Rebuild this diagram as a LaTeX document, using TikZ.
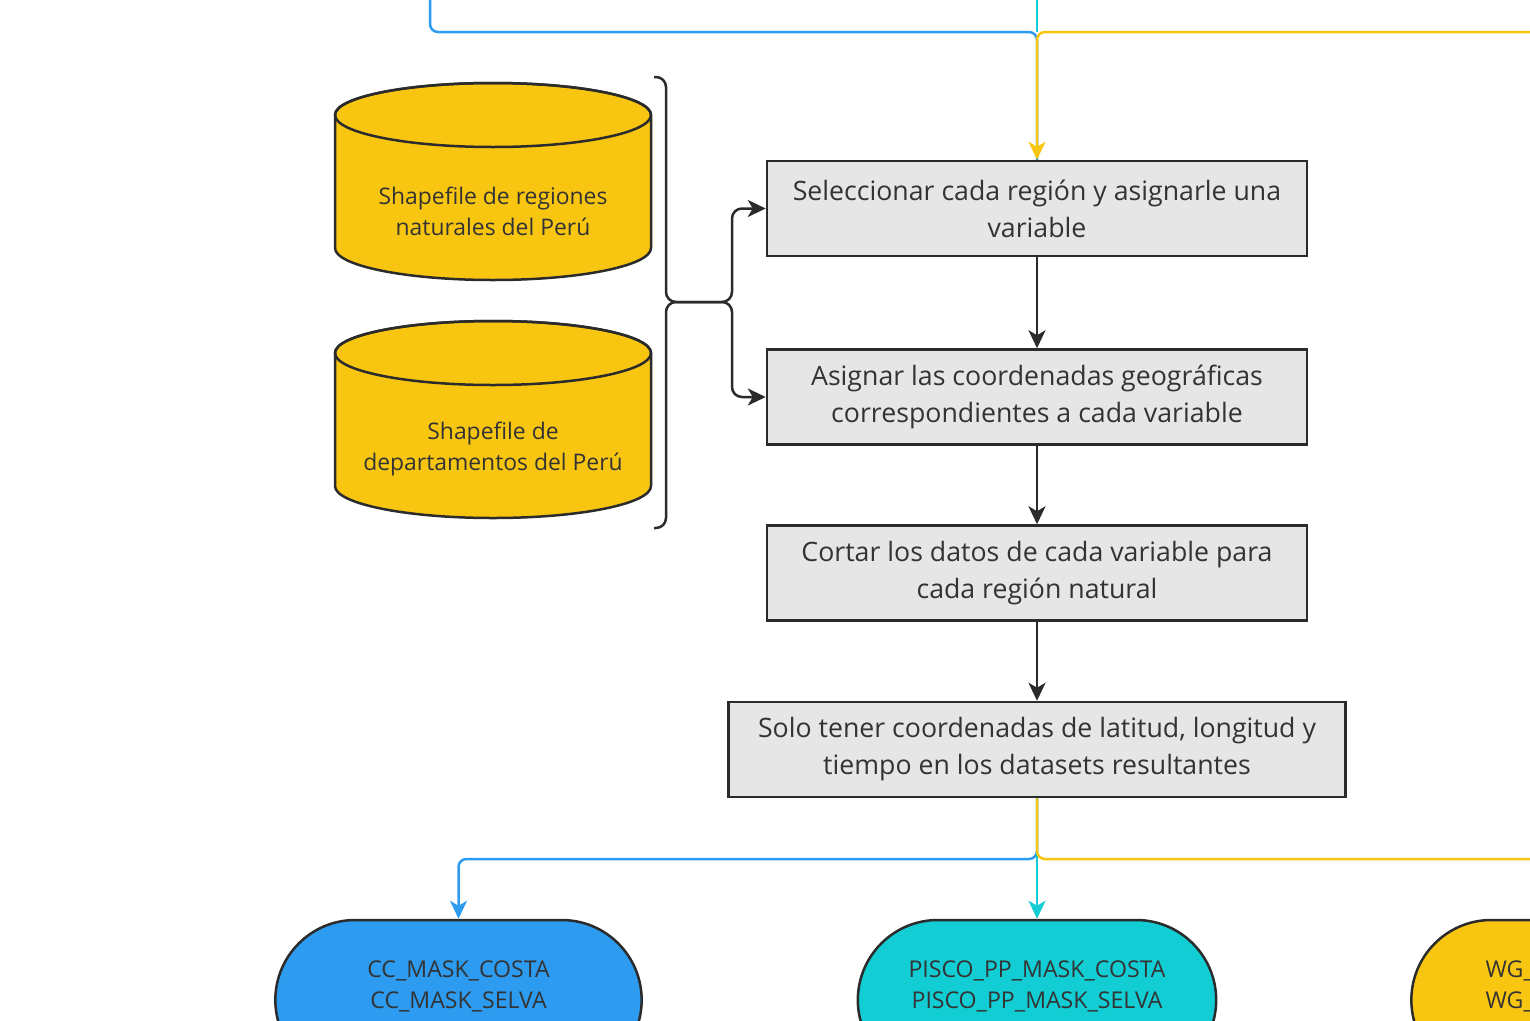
\documentclass[tikz,border=0pt]{standalone}
\usepackage{fontspec}
\setmainfont{Open Sans}
\usetikzlibrary{arrows.meta,shapes.misc}

\definecolor{yellowc}{HTML}{F8C611}
\definecolor{bluec}{HTML}{2D9BF0}
\definecolor{cyanc}{HTML}{12CDD4}
\definecolor{linec}{HTML}{2B2B2B}
\definecolor{boxc}{HTML}{E6E6E6}
\definecolor{textc}{HTML}{333333}

\tikzset{
    procbox/.style={draw=linec, line width=2.5pt, fill=boxc, minimum width=540pt, minimum height=95pt,
        align=center, text=textc, font=\fontsize{26.7}{37}\selectfont},
    dbtext/.style={align=center, text=textc, font=\fontsize{22.9}{31}\selectfont},
    termnode/.style={rounded rectangle, draw=linec, line width=2.5pt, minimum width=373pt, minimum height=160pt,
        align=center, text=textc, font=\fontsize{23.1}{31}\selectfont},
    flow/.style={line width=2.5pt, rounded corners=8pt, -{Stealth[length=18pt,width=17pt,inset=5pt]}},
    plainflow/.style={line width=2.5pt, rounded corners=8pt},
}

\begin{document}
\begin{tikzpicture}[x=1pt,y=-1pt]

                    \useasboundingbox (0, 0) rectangle (1530, 1020);
                    \clip (0, 0) rectangle (1530, 1020);

                    % cylinders
                    \fill[yellowc, draw=linec, line width=2.5pt] (335, 115) -- (335, 248) arc[start angle=180, end angle=0, x radius=158, y radius=32] -- (651, 115) arc[start angle=0, end angle=-180, x radius=158, y radius=32] -- cycle;
                    \draw[linec, line width=2.5pt] (493, 115) ellipse[x radius=158, y radius=32];
                    \node[dbtext] (regiones) at (493, 211) {Shapefile de regiones\\naturales del Perú};

                    \fill[yellowc, draw=linec, line width=2.5pt] (335, 353) -- (335, 486) arc[start angle=180, end angle=0, x radius=158, y radius=32] -- (651, 353) arc[start angle=0, end angle=-180, x radius=158, y radius=32] -- cycle;
                    \draw[linec, line width=2.5pt] (493, 353) ellipse[x radius=158, y radius=32];
                    \node[dbtext] (departamentos) at (493, 449) {Shapefile de\\departamentos del Perú};

                    % process boxes
                    \node[procbox] (seleccionar) at (1037, 208.5) {Seleccionar cada región y asignarle una\\variable};
                    \node[procbox] (asignar) at (1037, 397) {Asignar las coordenadas geográficas\\correspondientes a cada variable};
                    \node[procbox] (cortar) at (1037, 573) {Cortar los datos de cada variable para\\cada región natural};
                    \node[procbox, minimum width=617pt] (tener) at (1037, 749.5) {Solo tener coordenadas de latitud, longitud y\\tiempo en los datasets resultantes};

                    % output nodes
                    \node[termnode, fill=bluec] (cc) at (458.5, 1000) {CC\_MASK\_COSTA\\CC\_MASK\_SELVA\\\mbox{}};
                    \node[termnode, fill=cyanc, minimum width=365pt] (pisco) at (1037, 1000) {PISCO\_PP\_MASK\_COSTA\\PISCO\_PP\_MASK\_SELVA\\\mbox{}};
                    \node[termnode, fill=yellowc, text width=218pt, align=left] (wg) at (1594.5, 1000) {WG\_\\WG\_\\\mbox{}};

                    % incoming lines
                    \coordinate (topblue) at (430, 0);
                    \coordinate (topcyan) at (1037, 0);
                    \coordinate (topyellow) at (1530, 32);
                    \coordinate (split1) at (1037, 32);

                    \draw[plainflow, bluec] (topblue) |- (split1) -- (seleccionar.north);
                    \draw[plainflow, cyanc] (topcyan) -- (split1);
                    \draw[flow, yellowc] (topyellow) -- (split1) -- (seleccionar.north);

                    % brace and fork
                    \coordinate (bracetop) at (654, 77);
                    \coordinate (bracebot) at (654, 528);
                    \coordinate (brace) at (666, 302);
                    \coordinate (fork) at (732, 302);

                    \draw[flow, linec, rounded corners=10pt] (bracetop) -| (brace) -- (fork) |- (seleccionar.west);
                    \draw[flow, linec, rounded corners=10pt] (bracebot) -| (brace) -- (fork) |- (asignar.west);

                    \draw[flow, linec] (seleccionar) -- (asignar);
                    \draw[flow, linec] (asignar) -- (cortar);
                    \draw[flow, linec] (cortar) -- (tener);

                    % outgoing lines
                    \coordinate (split2) at (1037, 859);
                    \coordinate (botyellow) at (1530, 859);

                    \draw[flow, bluec] (tener.south) -- (split2) -| (cc.north);
                    \draw[flow, cyanc] (tener.south) -- (pisco.north);
                    \draw[plainflow, yellowc] (tener.south) -- (split2) -- (botyellow);

                \end{tikzpicture}
\end{document}
